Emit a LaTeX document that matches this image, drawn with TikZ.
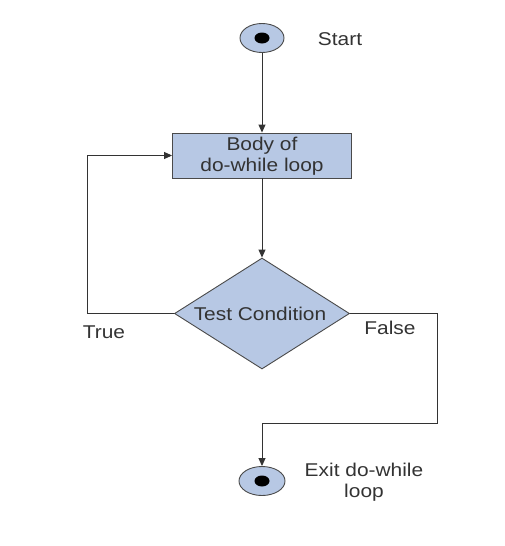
\documentclass[tikz,border=0pt]{standalone}
\usepackage{fontspec}
\setmainfont{Liberation Sans}
\usetikzlibrary{shapes.geometric,arrows.meta}
\definecolor{fillblue}{HTML}{B7C8E4}
\definecolor{edgegray}{HTML}{4A4A4A}
\definecolor{txtgray}{HTML}{333333}
\begin{document}
\begin{tikzpicture}[x=1pt,y=-1pt,
  every node/.style={font=\fontsize{18.5}{21}\selectfont, text=txtgray},
  lbl/.style={xscale=1.13, transform shape, inner sep=0pt, align=center},
  shapestyle/.style={draw=edgegray, fill=fillblue, line width=0.9pt},
  conn/.style={draw=black!80, line width=0.9pt},
  arr/.style={conn, -{Triangle[length=8pt,width=7pt]}}]
\useasboundingbox (0,0) rectangle (504,546);
% start
\node[shapestyle, ellipse, minimum width=44pt, minimum height=29pt, inner sep=0pt] (start) at (262,38) {};
\node[ellipse, fill=black, minimum width=15pt, minimum height=11pt, inner sep=0pt] (startdot) at (262,38) {};
\node[lbl] (starttxt) at (340,39) {Start};
% body
\node[shapestyle, rectangle, minimum width=179pt, minimum height=45pt, inner sep=0pt] (body) at (262,155.5) {};
\node[lbl] (bodytxt) at (262,156) {Body of\\do-while loop};
% diamond
\node[shapestyle, diamond, minimum width=175pt, minimum height=111pt, inner sep=0pt, aspect=1.58] (test) at (262,313.5) {};
\node[lbl] (testtxt) at (260,314) {Test Condition};
% exit
\node[shapestyle, ellipse, minimum width=46pt, minimum height=29pt, inner sep=0pt] (exit) at (262,481) {};
\node[ellipse, fill=black, minimum width=15pt, minimum height=11pt, inner sep=0pt] (exitdot) at (262,481) {};
\node[lbl] (exittxt) at (364,482) {Exit do-while\\loop};
% labels
\node[lbl] (truetxt) at (104,332) {True};
\node[lbl] (falsetxt) at (390,328) {False};
% coordinates
\coordinate (lc) at (87,313.5);
\coordinate (rc) at (437,313.5);
\coordinate (rb) at (437,423);
\coordinate (eb) at (262,423);
% connectors
\draw[arr] (start.south) -- (body.north);
\draw[arr] (body.south) -- (test.north);
\draw[arr] (test.west) -- (lc) |- (body.west);
\draw[arr] (test.east) -- (rc) -- (rb) -- (eb) -- (exit.north);
\end{tikzpicture}
\end{document}
